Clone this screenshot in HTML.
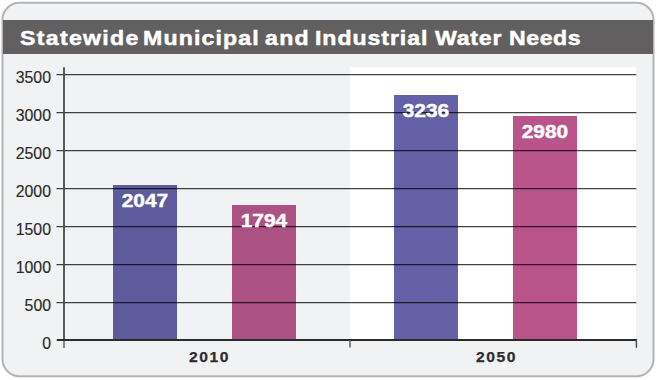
<!DOCTYPE html>
<html><head><meta charset="utf-8">
<style>
html,body{margin:0;padding:0;background:#fff;width:657px;height:380px;overflow:hidden;position:relative;font-family:"Liberation Sans",sans-serif;}
.abs{position:absolute;}
#hdr{position:absolute;left:3px;top:20px;width:650px;height:34px;background:#625f60;}
.tw{position:absolute;top:24.6px;color:#fff;font-weight:bold;font-size:21px;line-height:26px;white-space:nowrap;letter-spacing:1.2px;-webkit-text-stroke:0.5px #fff;transform:scaleX(1.1);transform-origin:0 0;}
#white{position:absolute;left:350px;top:67px;width:286.4px;height:273px;background:#fff;}
.bar{position:absolute;}
.yl{position:absolute;left:0;width:51px;text-align:right;font-size:16.5px;line-height:18px;color:#2a2a2a;-webkit-text-stroke:0.15px #2a2a2a;transform:scaleX(0.96);transform-origin:100% 0;}
.vl{position:absolute;color:#fff;font-weight:bold;font-size:19px;line-height:20px;text-align:center;transform:scaleX(1.1);-webkit-text-stroke:0.45px #fff;}
.xl{position:absolute;top:348.8px;font-weight:bold;font-size:14.5px;line-height:16px;color:#2f2c2c;letter-spacing:1.4px;-webkit-text-stroke:0.25px #2f2c2c;transform:scaleX(1.08);transform-origin:0 0;}
</style></head><body>
<svg class="abs" style="left:0;top:0" width="657" height="380">
  <rect x="2.5" y="2.7" width="651" height="373.6" rx="17" ry="17" fill="#f1f2f4" stroke="#b3b4b8" stroke-width="2"/>
</svg>
<div id="hdr"></div>
<div class="tw" style="left:20px">Statewide</div>
<div class="tw" style="left:142.8px;letter-spacing:1.05px">Municipal</div>
<div class="tw" style="left:264.8px;letter-spacing:1.2px">and</div>
<div class="tw" style="left:315.3px;letter-spacing:0.85px">Industrial</div>
<div class="tw" style="left:434.5px;letter-spacing:0.7px">Water</div>
<div class="tw" style="left:508.5px;letter-spacing:0.5px">Needs</div>

<div id="white"></div>

<div class="bar" style="left:113px;top:185px;width:64px;height:154px;background:#5e5b9d"></div>
<div class="bar" style="left:232px;top:205px;width:64px;height:134px;background:#ac5183"></div>
<div class="bar" style="left:394px;top:95px;width:64px;height:244px;background:#6461a6"></div>
<div class="bar" style="left:513px;top:116px;width:64px;height:223px;background:#b9548a"></div>

<svg class="abs" style="left:0;top:0" width="657" height="380">
  <g stroke="rgba(0,0,0,0.74)" stroke-width="1.25" fill="none">
    <line x1="56.5" y1="74.6" x2="636.3" y2="74.6"/>
    <line x1="56.5" y1="112.6" x2="636.3" y2="112.6"/>
    <line x1="56.5" y1="150.6" x2="636.3" y2="150.6"/>
    <line x1="56.5" y1="188.6" x2="636.3" y2="188.6"/>
    <line x1="56.5" y1="226.6" x2="636.3" y2="226.6"/>
    <line x1="56.5" y1="264.6" x2="636.3" y2="264.6"/>
    <line x1="56.5" y1="302.6" x2="636.3" y2="302.6"/>
  </g>
  <line x1="64" y1="67.2" x2="64" y2="340" stroke="#4a4a4a" stroke-width="1.8"/>
  <line x1="64" y1="340" x2="64" y2="348" stroke="#6a6a6a" stroke-width="1.6"/>
  <line x1="56.8" y1="340" x2="637" y2="340" stroke="#2b2b2b" stroke-width="2"/>
  <line x1="350" y1="340" x2="350" y2="347.6" stroke="#575757" stroke-width="1.4"/>
  <line x1="636.4" y1="339" x2="636.4" y2="347.8" stroke="#444" stroke-width="1.4"/>
</svg>

<div class="vl" style="left:113px;top:191px;width:64px">2047</div>
<div class="vl" style="left:232px;top:211px;width:64px">1794</div>
<div class="vl" style="left:394px;top:100.5px;width:64px">3236</div>
<div class="vl" style="left:513px;top:122px;width:64px">2980</div>

<div class="yl" style="top:68px">3500</div>
<div class="yl" style="top:106px">3000</div>
<div class="yl" style="top:144px">2500</div>
<div class="yl" style="top:182px">2000</div>
<div class="yl" style="top:220px">1500</div>
<div class="yl" style="top:258px">1000</div>
<div class="yl" style="top:296px">500</div>
<div class="yl" style="top:334px">0</div>

<div class="xl" style="left:188.6px">2010</div>
<div class="xl" style="left:475.8px">2050</div>
</body></html>
